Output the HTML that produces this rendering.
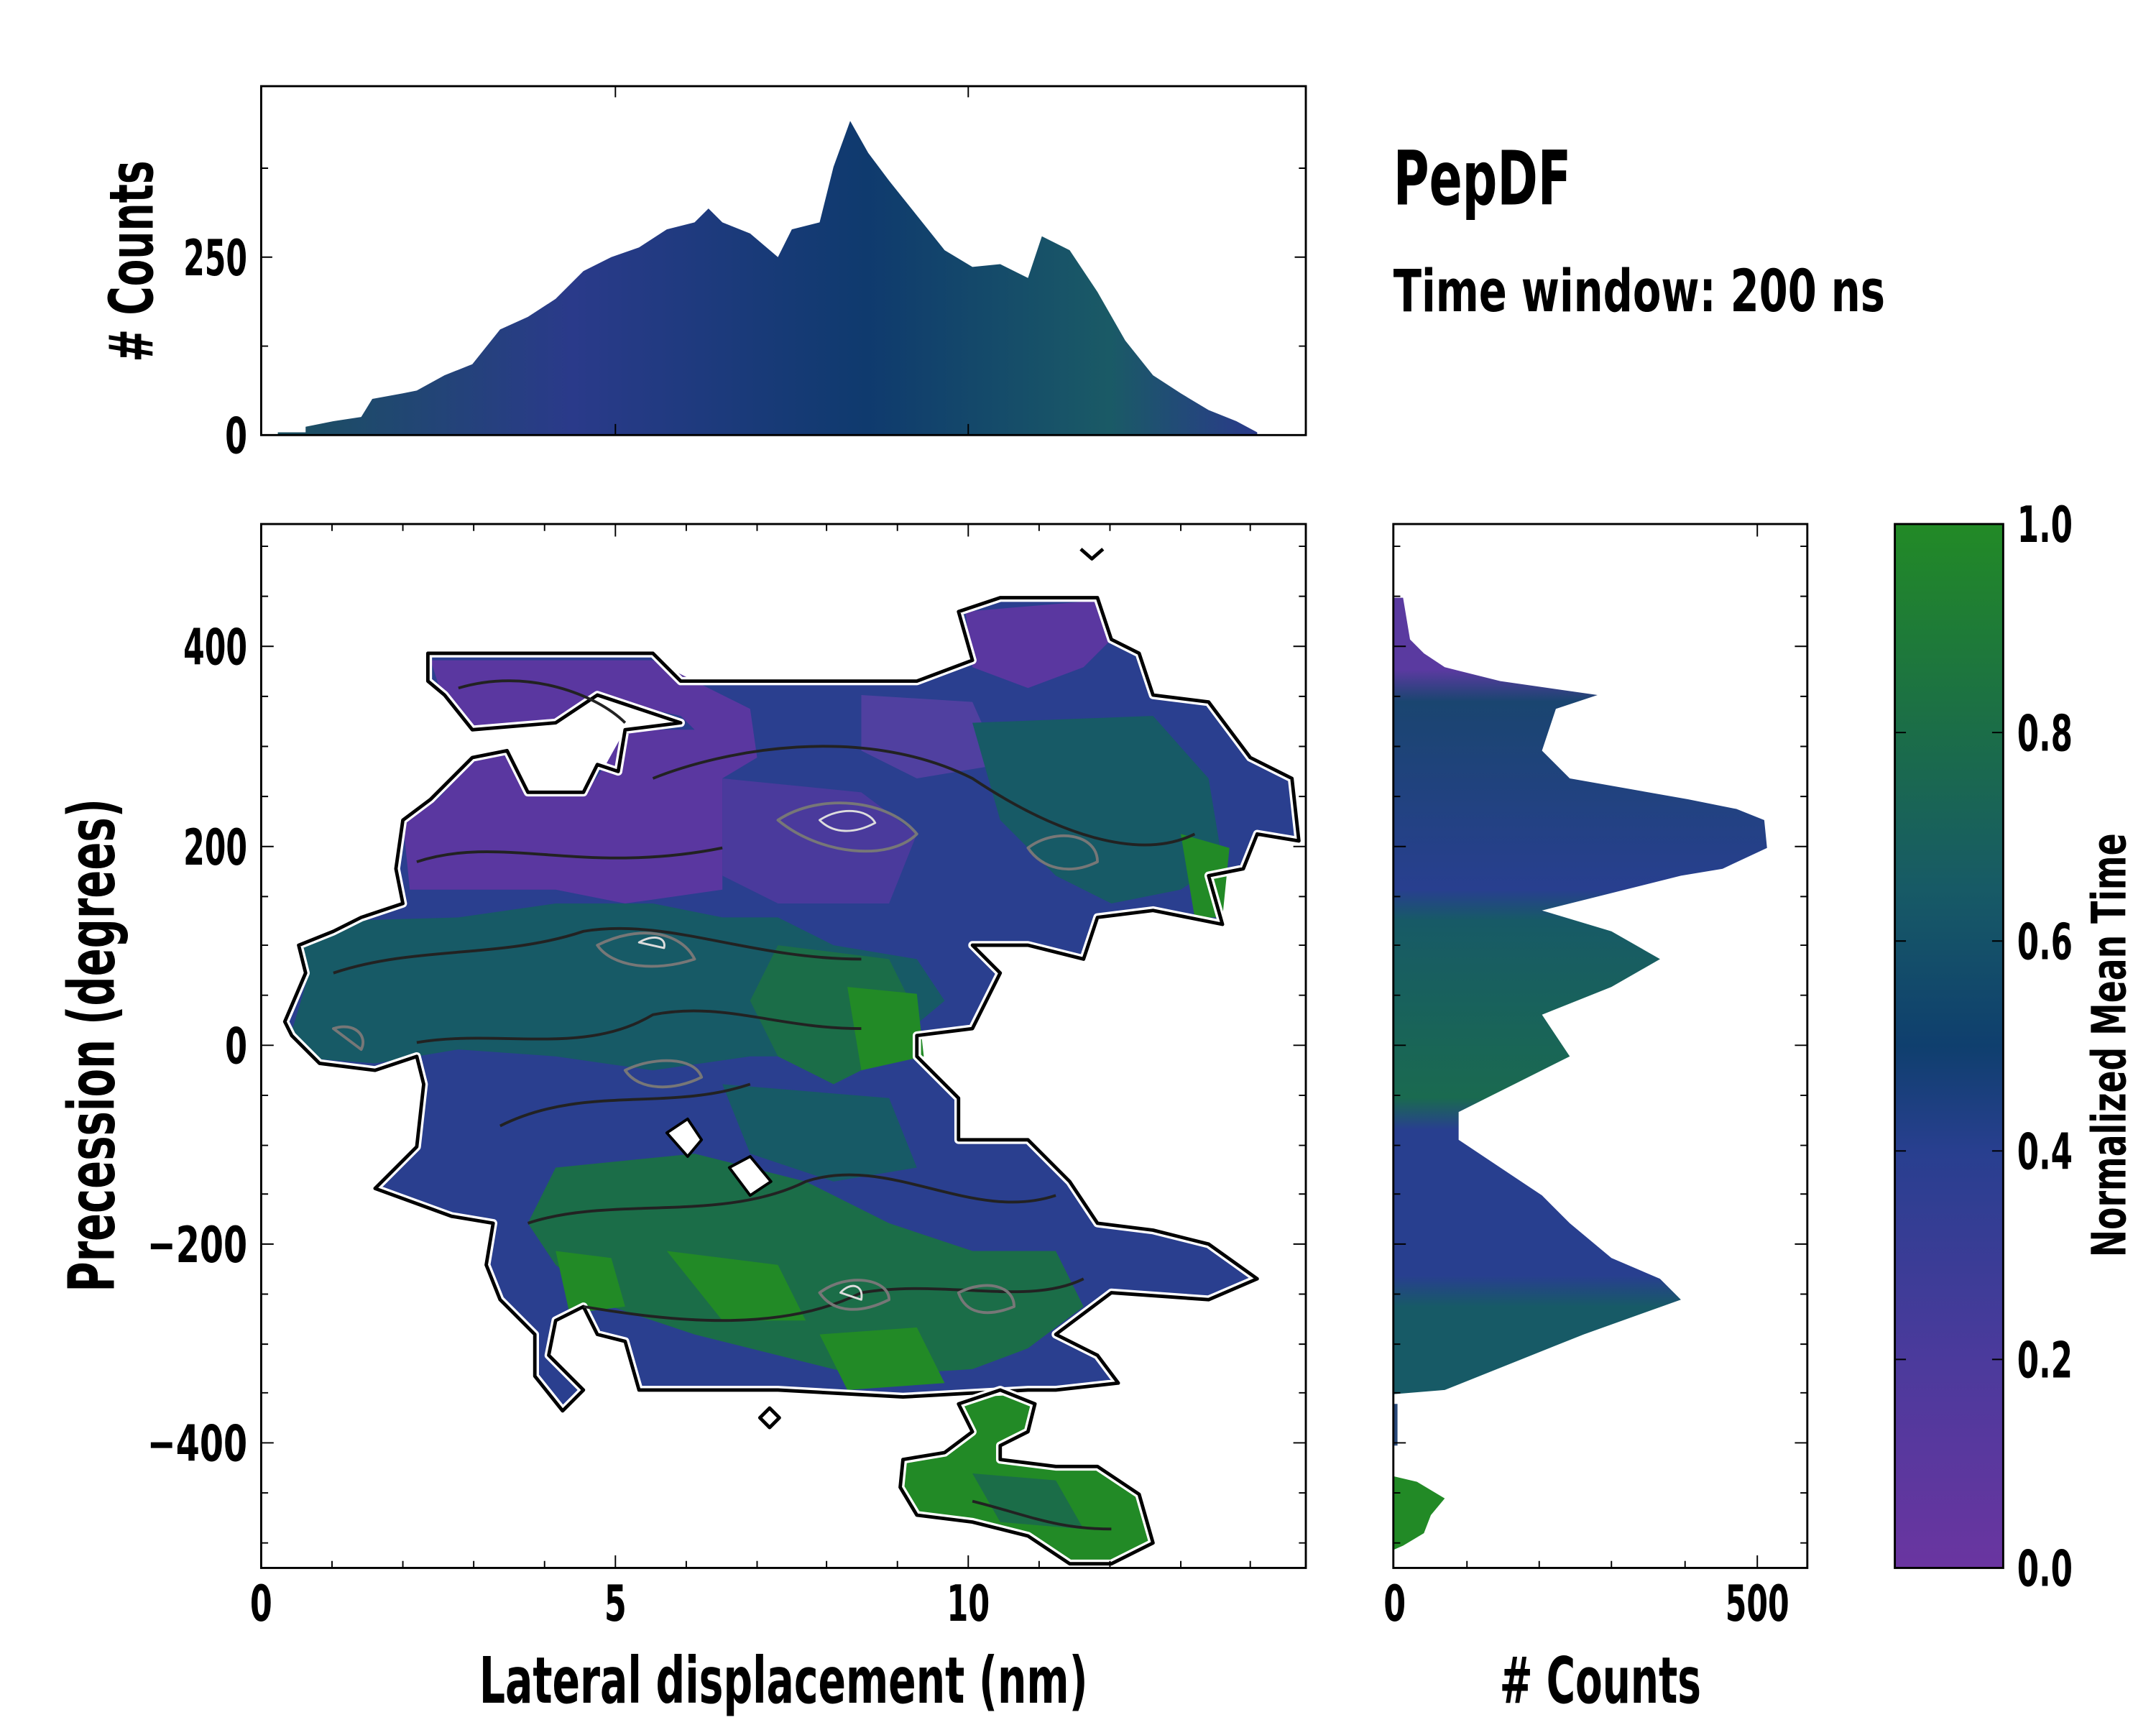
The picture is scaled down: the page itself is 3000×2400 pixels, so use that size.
<!DOCTYPE html>
<html><head><meta charset="utf-8"><style>
html,body{margin:0;padding:0;background:#fff}
svg{display:block}
text{font-family:"Liberation Sans Narrow","DejaVu Sans Condensed","Liberation Sans",sans-serif;font-weight:bold;fill:#000}
</style></head><body>
<svg width="3000" height="2400" viewBox="0 0 1552 1241" preserveAspectRatio="none" xmlns="http://www.w3.org/2000/svg">
<defs>
<linearGradient id="cb" x1="0" y1="1" x2="0" y2="0">
<stop offset="0" stop-color="#6a35a0"/><stop offset="0.2" stop-color="#4b3a9c"/>
<stop offset="0.4" stop-color="#283f8f"/><stop offset="0.5" stop-color="#0f3f6e"/>
<stop offset="0.65" stop-color="#175a66"/><stop offset="0.8" stop-color="#1b6d48"/>
<stop offset="1" stop-color="#228a26"/></linearGradient>
<linearGradient id="th" x1="0" y1="0" x2="1" y2="0">
<stop offset="0" stop-color="#1a5060"/><stop offset="0.3" stop-color="#2a3a8a"/>
<stop offset="0.6" stop-color="#0f3a6e"/><stop offset="0.85" stop-color="#1a5a66"/><stop offset="1" stop-color="#2a3a8a"/></linearGradient>
<linearGradient id="rh" gradientUnits="userSpaceOnUse" x1="0" y1="377" x2="0" y2="1128">
<stop offset="0" stop-color="#5a3aa0"/><stop offset="0.14" stop-color="#5a3aa0"/>
<stop offset="0.17" stop-color="#1a4570"/><stop offset="0.35" stop-color="#283f8f"/>
<stop offset="0.38" stop-color="#175a66"/><stop offset="0.55" stop-color="#1a6a50"/>
<stop offset="0.58" stop-color="#283f8f"/><stop offset="0.72" stop-color="#283f8f"/>
<stop offset="0.75" stop-color="#175a66"/><stop offset="0.85" stop-color="#175a66"/>
<stop offset="0.9" stop-color="#228a26"/><stop offset="1" stop-color="#228a26"/></linearGradient>
</defs>

<!-- top histogram -->
<path fill="url(#th)" d="M200,313 L200,311 220,311 220,307 240,303 260,300 268,287 290,283 300,281 320,270 340,262 360,237 380,228 400,215 420,195 440,185 460,178 480,165 500,160 510,150 520,160 540,168 560,185 570,165 590,160 600,120 612,87 625,110 640,130 660,155 680,180 700,192 720,190 740,200 750,170 770,180 790,210 810,245 830,270 850,283 870,295 890,303 905,311 905,313 Z"/>
<rect x="188" y="62" width="752" height="251" fill="none" stroke="#000" stroke-width="1.5"/>
<g stroke="#000" stroke-width="1">
<path d="M188,185h8M188,249h5M188,121h5M940,185h-8M940,249h-5M940,121h-5"/>
<path d="M443,313v-8M697,313v-8M443,62v8M697,62v8"/>
</g>
<text x="178" y="326" font-size="36" text-anchor="end" textLength="16" lengthAdjust="spacingAndGlyphs">0</text>
<text x="178" y="198" font-size="36" text-anchor="end" textLength="46" lengthAdjust="spacingAndGlyphs">250</text>
<text transform="translate(110,188) rotate(-90)" font-size="44" text-anchor="middle" textLength="145" lengthAdjust="spacingAndGlyphs">#&#160;Counts</text>

<text x="1003" y="147" font-size="54" textLength="128" lengthAdjust="spacingAndGlyphs">PepDF</text>
<text x="1003" y="224" font-size="42" textLength="354" lengthAdjust="spacingAndGlyphs">Time window: 200 ns</text>

<!-- main heatmap -->
<g>
<path fill="#2a3f8f" d="M308,470 L470,470 490,490 660,490 700,475 690,440 720,430 790,430 800,460 820,470 830,500 870,505 900,545 930,560 935,605 905,600 895,625 870,630 880,665 830,655 790,660 780,690 740,680 700,680 720,700 700,740 660,745 660,760 690,790 690,820 740,820 770,850 790,880 830,885 870,895 905,920 870,935 800,930 780,945 760,960 790,975 805,995 760,1000 740,1000 650,1005 560,1000 460,1000 450,965 430,960 420,940 400,950 395,975 420,1000 405,1015 385,990 385,960 360,935 350,910 355,880 325,875 270,855 300,825 305,780 300,760 270,770 230,765 210,745 205,735 220,700 215,680 240,670 260,660 290,650 285,625 290,590 310,575 340,545 365,540 380,570 420,570 430,550 445,555 450,525 490,520 430,500 400,520 340,525 320,500 308,490 Z"/>
<path fill="#5a37a0" d="M310,475 L470,475 520,500 540,510 545,545 520,560 520,640 450,650 400,640 330,640 295,640 290,590 315,575 340,548 365,543 382,572 420,572 435,552 450,525 500,525 490,515 430,502 400,522 340,525 318,500 Z"/>
<path fill="#5a37a0" d="M695,440 L790,432 798,462 780,480 740,495 700,480 Z"/>
<path fill="#5040a0" d="M620,500 L700,505 720,550 660,560 620,540 Z"/>
<path fill="#4a3a9c" d="M520,560 L620,570 660,600 640,650 560,650 520,630 Z"/>
<path fill="#175a66" d="M215,682 L260,662 330,660 400,650 470,650 520,660 560,660 600,680 660,690 680,720 650,745 600,760 540,760 470,770 400,760 330,755 270,765 230,762 210,742 222,702 Z"/>
<path fill="#1b6d48" d="M560,680 L640,690 660,730 640,760 600,780 560,760 540,720 Z"/>
<path fill="#228a26" d="M610,710 L660,715 665,760 620,770 Z"/>
<path fill="#175a66" d="M700,520 L830,515 870,560 880,620 850,640 800,650 760,630 720,590 Z"/>
<path fill="#228a26" d="M850,600 L885,610 880,660 860,660 Z"/>
<path fill="#1b6d48" d="M400,840 L500,830 580,850 640,880 700,900 760,900 780,940 740,970 700,985 620,990 560,975 500,960 440,940 400,910 380,880 Z"/>
<path fill="#228a26" d="M480,900 L560,910 580,950 520,950 Z"/>
<path fill="#228a26" d="M590,960 L660,955 680,995 610,1000 Z"/>
<path fill="#228a26" d="M400,900 L440,905 450,940 410,945 Z"/>
<path fill="#175a66" d="M520,780 L640,790 660,840 600,850 540,830 Z"/>
<path fill="#228a26" d="M690,1010 L720,1000 745,1010 740,1030 720,1040 720,1050 760,1055 790,1055 820,1075 830,1110 800,1125 770,1125 740,1105 700,1095 660,1090 648,1070 650,1050 680,1045 700,1030 Z"/>
<path fill="#1b6d48" d="M700,1060 L760,1065 780,1100 720,1095 Z"/>
</g>
<g fill="none" stroke-linejoin="round">
<path stroke="#fff" stroke-width="6" d="M308,470 L470,470 490,490 660,490 700,475 690,440 720,430 790,430 800,460 820,470 830,500 870,505 900,545 930,560 935,605 905,600 895,625 870,630 880,665 830,655 790,660 780,690 740,680 700,680 720,700 700,740 660,745 660,760 690,790 690,820 740,820 770,850 790,880 830,885 870,895 905,920 870,935 800,930 780,945 760,960 790,975 805,995 760,1000 740,1000 650,1005 560,1000 460,1000 450,965 430,960 420,940 400,950 395,975 420,1000 405,1015 385,990 385,960 360,935 350,910 355,880 325,875 270,855 300,825 305,780 300,760 270,770 230,765 210,745 205,735 220,700 215,680 240,670 260,660 290,650 285,625 290,590 310,575 340,545 365,540 380,570 420,570 430,550 445,555 450,525 490,520 430,500 400,520 340,525 320,500 308,490 Z"/>
<path stroke="#000" stroke-width="2.5" d="M308,470 L470,470 490,490 660,490 700,475 690,440 720,430 790,430 800,460 820,470 830,500 870,505 900,545 930,560 935,605 905,600 895,625 870,630 880,665 830,655 790,660 780,690 740,680 700,680 720,700 700,740 660,745 660,760 690,790 690,820 740,820 770,850 790,880 830,885 870,895 905,920 870,935 800,930 780,945 760,960 790,975 805,995 760,1000 740,1000 650,1005 560,1000 460,1000 450,965 430,960 420,940 400,950 395,975 420,1000 405,1015 385,990 385,960 360,935 350,910 355,880 325,875 270,855 300,825 305,780 300,760 270,770 230,765 210,745 205,735 220,700 215,680 240,670 260,660 290,650 285,625 290,590 310,575 340,545 365,540 380,570 420,570 430,550 445,555 450,525 490,520 430,500 400,520 340,525 320,500 308,490 Z"/>
<path stroke="#fff" stroke-width="6" d="M690,1010 L720,1000 745,1010 740,1030 720,1040 720,1050 760,1055 790,1055 820,1075 830,1110 800,1125 770,1125 740,1105 700,1095 660,1090 648,1070 650,1050 680,1045 700,1030 Z"/>
<path stroke="#000" stroke-width="2.5" d="M690,1010 L720,1000 745,1010 740,1030 720,1040 720,1050 760,1055 790,1055 820,1075 830,1110 800,1125 770,1125 740,1105 700,1095 660,1090 648,1070 650,1050 680,1045 700,1030 Z"/>
<path stroke="#000" stroke-width="2.5" d="M778,395 L786,402 794,395 M547,1020 L554,1013 561,1020 554,1027 Z"/>
<path stroke="#000" stroke-width="2" fill="#fff" d="M480,815 L495,805 505,820 495,832 Z M525,840 L540,832 555,850 540,860 Z"/>
<g stroke="#222" stroke-width="2">
<path d="M330,495 C380,480 430,500 450,520 M470,560 C520,540 620,520 700,560 C760,600 820,620 860,600 M300,620 C360,600 420,630 520,610 M240,700 C300,680 360,690 420,670 C480,660 540,690 620,690 M300,750 C360,740 420,760 470,730 C520,720 560,740 620,740 M360,810 C420,780 480,800 540,780 M380,880 C440,860 520,880 580,850 C640,830 700,880 760,860 M420,940 C480,950 560,960 620,930 C680,920 740,940 780,920 M700,1080 C740,1090 760,1100 800,1100"/>
</g>
<g stroke="#777" stroke-width="2">
<path d="M560,590 C590,570 640,575 660,600 C640,620 590,615 560,590 Z M740,610 C760,595 790,600 790,620 C770,630 750,625 740,610 Z M430,680 C460,665 490,670 500,690 C470,700 440,695 430,680 Z M450,770 C470,760 500,760 505,775 C485,785 460,785 450,770 Z M590,930 C610,915 640,920 640,935 C620,945 600,945 590,930 Z M690,930 C710,920 730,925 730,940 C710,948 695,945 690,930 Z M240,740 C255,735 265,745 260,755 Z"/>
</g>
<g stroke="#ddd" stroke-width="1.5">
<path d="M590,590 C605,580 625,582 630,592 C615,600 600,600 590,590 Z M460,678 C470,672 480,674 478,682 Z M605,930 C612,922 622,924 620,935 Z"/>
</g>
</g>
<rect x="188" y="377" width="752" height="751" fill="none" stroke="#000" stroke-width="1.5"/>
<g stroke="#000" stroke-width="1">
<path d="M188,465h9M188,609h9M188,752h9M188,895h9M188,1038h9M940,465h-9M940,609h-9M940,752h-9M940,895h-9M940,1038h-9"/>
<path d="M188,429h5M188,501h5M188,537h5M188,573h5M188,645h5M188,680h5M188,716h5M188,788h5M188,824h5M188,859h5M188,931h5M188,967h5M188,1002h5M188,1074h5M188,1110h5M188,393h5"/>
<path d="M940,429h-5M940,501h-5M940,537h-5M940,573h-5M940,645h-5M940,680h-5M940,716h-5M940,788h-5M940,824h-5M940,859h-5M940,931h-5M940,967h-5M940,1002h-5M940,1074h-5M940,1110h-5M940,393h-5"/>
<path d="M443,1128v-9M697,1128v-9M443,377v9M697,377v9"/>
<path d="M239,1128v-5M290,1128v-5M341,1128v-5M392,1128v-5M494,1128v-5M545,1128v-5M595,1128v-5M646,1128v-5M748,1128v-5M799,1128v-5M850,1128v-5M900,1128v-5"/>
<path d="M239,377v5M290,377v5M341,377v5M392,377v5M494,377v5M545,377v5M595,377v5M646,377v5M748,377v5M799,377v5M850,377v5M900,377v5"/>
</g>
<g font-size="36" text-anchor="end">
<text x="178" y="478" textLength="46" lengthAdjust="spacingAndGlyphs">400</text>
<text x="178" y="622" textLength="46" lengthAdjust="spacingAndGlyphs">200</text>
<text x="178" y="765" textLength="16" lengthAdjust="spacingAndGlyphs">0</text>
<text x="178" y="908" textLength="72" lengthAdjust="spacingAndGlyphs">−200</text>
<text x="178" y="1051" textLength="72" lengthAdjust="spacingAndGlyphs">−400</text>
</g>
<g font-size="36" text-anchor="middle">
<text x="188" y="1166" textLength="16" lengthAdjust="spacingAndGlyphs">0</text>
<text x="443" y="1166" textLength="16" lengthAdjust="spacingAndGlyphs">5</text>
<text x="697" y="1166" textLength="31" lengthAdjust="spacingAndGlyphs">10</text>
<text x="1004" y="1166" textLength="16" lengthAdjust="spacingAndGlyphs">0</text>
<text x="1265" y="1166" textLength="46" lengthAdjust="spacingAndGlyphs">500</text>
</g>
<text x="564" y="1225" font-size="46" text-anchor="middle" textLength="438" lengthAdjust="spacingAndGlyphs">Lateral displacement (nm)</text>
<text transform="translate(82,752) rotate(-90)" font-size="46" text-anchor="middle" textLength="355" lengthAdjust="spacingAndGlyphs">Precession (degrees)</text>

<!-- right histogram -->
<path fill="url(#rh)" d="M1003,430 L1010,430 1015,460 1025,470 1040,480 1080,490 1150,500 1120,510 1110,540 1130,560 1215,575 1250,582 1270,590 1272,610 1240,625 1210,630 1110,655 1160,670 1195,690 1160,710 1110,730 1130,760 1090,780 1050,800 1050,820 1080,840 1110,860 1130,880 1160,905 1195,920 1210,935 1140,960 1090,980 1040,1000 1003,1003 Z"/>
<path fill="#228a26" d="M1003,1062 L1020,1066 1040,1078 1030,1090 1025,1103 1010,1112 1003,1115 Z"/>
<path fill="#2a4a7a" d="M1003,1010 L1006,1010 1006,1040 1003,1040 Z"/>
<rect x="1003" y="377" width="298" height="751" fill="none" stroke="#000" stroke-width="1.5"/>
<g stroke="#000" stroke-width="1">
<path d="M1003,465h9M1003,609h9M1003,752h9M1003,895h9M1003,1038h9M1301,465h-9M1301,609h-9M1301,752h-9M1301,895h-9M1301,1038h-9"/>
<path d="M1003,429h5M1003,501h5M1003,537h5M1003,573h5M1003,645h5M1003,680h5M1003,716h5M1003,788h5M1003,824h5M1003,859h5M1003,931h5M1003,967h5M1003,1002h5M1003,1074h5M1003,1110h5M1003,393h5"/>
<path d="M1301,429h-5M1301,501h-5M1301,537h-5M1301,573h-5M1301,645h-5M1301,680h-5M1301,716h-5M1301,788h-5M1301,824h-5M1301,859h-5M1301,931h-5M1301,967h-5M1301,1002h-5M1301,1074h-5M1301,1110h-5M1301,393h-5"/>
<path d="M1265,1128v-9M1265,377v9M1056,1128v-5M1108,1128v-5M1160,1128v-5M1213,1128v-5"/>
</g>
<text x="1152" y="1225" font-size="46" text-anchor="middle" textLength="145" lengthAdjust="spacingAndGlyphs">#&#160;Counts</text>

<!-- colorbar -->
<rect x="1364" y="377" width="78" height="751" fill="url(#cb)" stroke="#000" stroke-width="1.5"/>
<g stroke="#000" stroke-width="1">
<path d="M1442,377h-8M1442,527h-8M1442,677h-8M1442,828h-8M1442,978h-8M1442,1128h-8M1364,527h8M1364,677h8M1364,828h8M1364,978h8"/>
</g>
<g font-size="36">
<text x="1452" y="390" textLength="40" lengthAdjust="spacingAndGlyphs">1.0</text>
<text x="1452" y="540" textLength="40" lengthAdjust="spacingAndGlyphs">0.8</text>
<text x="1452" y="690" textLength="40" lengthAdjust="spacingAndGlyphs">0.6</text>
<text x="1452" y="841" textLength="40" lengthAdjust="spacingAndGlyphs">0.4</text>
<text x="1452" y="991" textLength="40" lengthAdjust="spacingAndGlyphs">0.2</text>
<text x="1452" y="1141" textLength="40" lengthAdjust="spacingAndGlyphs">0.0</text>
</g>
<text transform="translate(1530,752) rotate(-90)" font-size="34" text-anchor="middle" textLength="305" lengthAdjust="spacingAndGlyphs">Normalized Mean Time</text>
</svg>
</body></html>
